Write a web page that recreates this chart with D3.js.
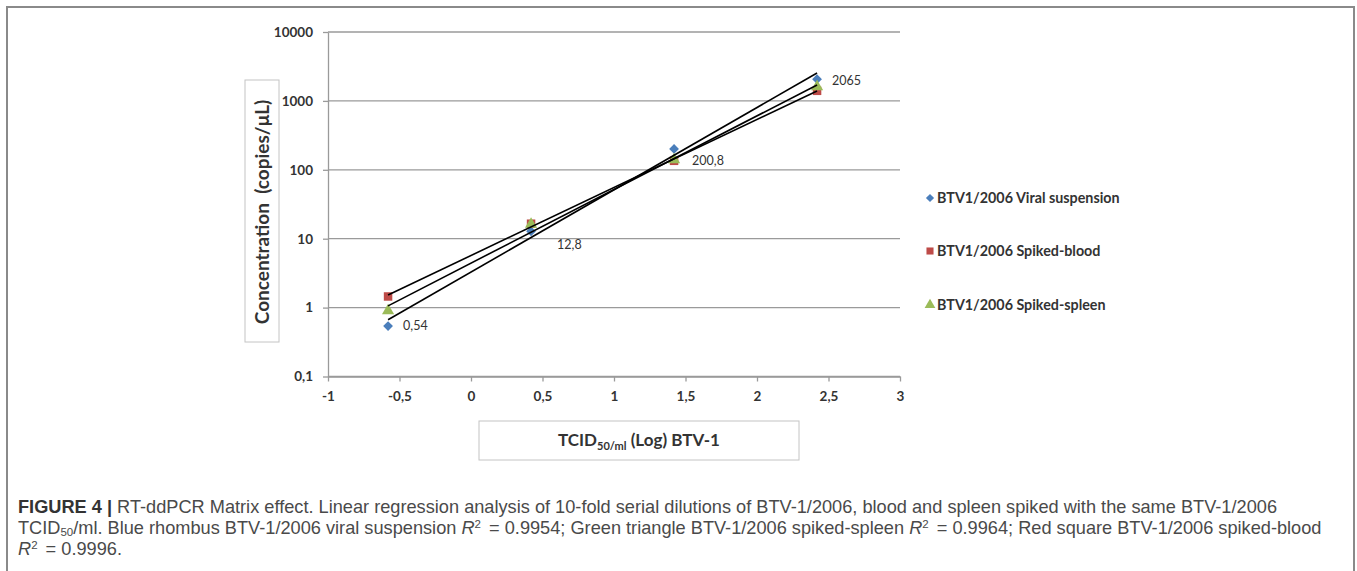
<!DOCTYPE html>
<html>
<head>
<meta charset="utf-8">
<script src="https://cdn.jsdelivr.net/npm/d3@7"></script>
<style>
  html, body { margin: 0; padding: 0; background: #fff; }
  svg { display: block; }
</style>
</head>
<body>
<svg id="chart" width="1357" height="571"></svg>
<script>
// ---------------- data ----------------
const xValues = [-0.58, 0.42, 1.42, 2.42];           // TCID50/ml (Log)
const seriesNames = ["BTV1/2006 Viral suspension", "BTV1/2006 Spiked-blood", "BTV1/2006 Spiked-spleen"];
const viralSuspension = [0.54, 12.8, 200.8, 2065];
const spikedBlood = [1.45, 16.5, 135, 1400];
const spikedSpleen = [0.9, 16.2, 140, 1600];
const dataLabels = ["0,54", "12,8", "200,8", "2065"]; // labels of the viral suspension points
const yTicks = [0.1, 1, 10, 100, 1000, 10000];
const yTickLabels = ["0,1", "1", "10", "100", "1000", "10000"];
const xTicks = [-1, -0.5, 0, 0.5, 1, 1.5, 2, 2.5, 3];
const xTickLabels = ["-1", "-0,5", "0", "0,5", "1", "1,5", "2", "2,5", "3"];

// ---------------- styling ----------------
const colors = ["#4a7ebb", "#be4b48", "#9bbb59"];
const labelOffsets = [[15, 4], [26, 18], [18, 16], [15, 6]];
const chartFont = "Lato, 'Open Sans', sans-serif";
const captionFont = "'Liberation Sans', Arial, sans-serif";

const svg = d3.select("#chart");
const x = d3.scaleLinear().domain([-1, 3]).range([328, 900]);
const y = d3.scaleLog().domain([0.1, 10000]).range([376.5, 32]);

// outer frame
svg.append("rect").attr("x", 7).attr("y", 7).attr("width", 1347).attr("height", 600)
  .attr("fill", "none").attr("stroke", "#8a8a8a").attr("stroke-width", 2);

// gridlines
svg.append("g").selectAll("line").data(yTicks).join("line")
  .attr("x1", x(-1)).attr("x2", x(3))
  .attr("y1", d => y(d)).attr("y2", d => y(d))
  .attr("stroke", "#9a9a9a").attr("stroke-width", 1.3);

// y axis
const yAxis = svg.append("g").attr("transform", `translate(${x(-1)},0)`)
  .call(d3.axisLeft(y).tickValues(yTicks).tickFormat((d, i) => yTickLabels[i]).tickSize(5).tickSizeOuter(0));
yAxis.select(".domain").attr("stroke", "#9a9a9a").attr("stroke-width", 1.3);
yAxis.selectAll(".tick line").attr("stroke", "#9a9a9a").attr("stroke-width", 1.3);
yAxis.selectAll(".tick text").attr("x", -15).attr("font-family", chartFont).attr("font-size", 13.5)
  .attr("font-weight", "bold").attr("fill", "#333");

// x axis
const xAxis = svg.append("g").attr("transform", `translate(0,${y(0.1)})`)
  .call(d3.axisBottom(x).tickValues(xTicks).tickFormat((d, i) => xTickLabels[i]).tickSize(5).tickSizeOuter(0));
xAxis.select(".domain").attr("stroke", "#9a9a9a").attr("stroke-width", 1.3);
xAxis.selectAll(".tick text").attr("y", 15).attr("font-family", chartFont).attr("font-size", 13.5)
  .attr("font-weight", "bold").attr("fill", "#333");
xAxis.selectAll(".tick line").attr("stroke", "#9a9a9a").attr("stroke-width", 1.3);

// y title box
svg.append("rect").attr("x", 245).attr("y", 80).attr("width", 34).attr("height", 262)
  .attr("fill", "#fff").attr("stroke", "#c4c4c4").attr("stroke-width", 1);
svg.append("text").attr("transform", "translate(268.5,212) rotate(-90)")
  .attr("text-anchor", "middle").attr("font-family", chartFont).attr("font-size", 19)
  .attr("font-weight", "bold").attr("fill", "#333").attr("xml:space", "preserve")
  .text("Concentration  (copies/μL)");

// x title box
svg.append("rect").attr("x", 479).attr("y", 421).attr("width", 320).attr("height", 39)
  .attr("fill", "#fff").attr("stroke", "#c4c4c4").attr("stroke-width", 1);
const xt = svg.append("text").attr("x", 639).attr("y", 446).attr("text-anchor", "middle")
  .attr("font-family", chartFont).attr("font-size", 17).attr("font-weight", "bold").attr("fill", "#333");
xt.append("tspan").text("TCID");
xt.append("tspan").attr("font-size", 11).attr("dy", 4).text("50/ml");
xt.append("tspan").attr("dy", -4).text(" (Log) BTV-1");

// series
const series = [viralSuspension, spikedBlood, spikedSpleen];
const symbols = [d3.symbolSquare, d3.symbolSquare, d3.symbolTriangle];
const symSizes = [48, 72, 64];
const symRot = [45, 0, 0];

series.forEach((vals, si) => {
  svg.append("g").selectAll("path").data(vals).join("path")
    .attr("d", d3.symbol().type(symbols[si]).size(symSizes[si]))
    .attr("transform", (d, i) => `translate(${x(xValues[i])},${y(d)}) rotate(${symRot[si]})`)
    .attr("fill", colors[si]);
});

// regression (least squares on log10 values), drawn over markers
series.forEach(vals => {
  const ly = vals.map(v => Math.log10(v));
  const mx = d3.mean(xValues), my = d3.mean(ly);
  const slope = d3.sum(xValues, (xv, i) => (xv - mx) * (ly[i] - my)) / d3.sum(xValues, xv => (xv - mx) ** 2);
  const icpt = my - slope * mx;
  const ends = [d3.min(xValues), d3.max(xValues)];
  svg.append("line")
    .attr("x1", x(ends[0])).attr("y1", y(10 ** (icpt + slope * ends[0])))
    .attr("x2", x(ends[1])).attr("y2", y(10 ** (icpt + slope * ends[1])))
    .attr("stroke", "#000").attr("stroke-width", 1.6);
});

// data labels
svg.append("g").selectAll("text").data(viralSuspension).join("text")
  .attr("x", (d, i) => x(xValues[i]) + labelOffsets[i][0])
  .attr("y", (d, i) => y(d) + labelOffsets[i][1])
  .attr("font-family", chartFont).attr("font-size", 12.5).attr("fill", "#333")
  .text((d, i) => dataLabels[i]);

// legend
const legend = svg.append("g");
const legY = [198, 251, 305];
seriesNames.forEach((name, i) => {
  legend.append("path")
    .attr("d", d3.symbol().type(symbols[i]).size([34, 50, 50][i]))
    .attr("transform", `translate(930,${legY[i]}) rotate(${symRot[i]})`)
    .attr("fill", colors[i]);
  legend.append("text").attr("x", 937).attr("y", legY[i] + 5)
    .attr("font-family", chartFont).attr("font-size", 14.3).attr("font-weight", "bold")
    .attr("fill", "#333").text(name);
});

// caption
const cap = svg.append("text").attr("font-family", captionFont).attr("font-size", 18.2).attr("fill", "#4a4a4a");
const l1 = cap.append("tspan").attr("x", 18).attr("y", 513);
l1.append("tspan").attr("font-weight", "bold").attr("fill", "#333").text("FIGURE 4 | ");
l1.append("tspan").text("RT-ddPCR Matrix effect. Linear regression analysis of 10-fold serial dilutions of BTV-1/2006, blood and spleen spiked with the same BTV-1/2006");
const l2 = cap.append("tspan").attr("x", 18).attr("y", 533.5);
l2.append("tspan").text("TCID");
l2.append("tspan").attr("font-size", 11.5).attr("dy", 2).text("50");
l2.append("tspan").attr("dy", -2).text("/ml. Blue rhombus BTV-1/2006 viral suspension ");
l2.append("tspan").attr("font-style", "italic").text("R");
l2.append("tspan").attr("font-size", 11.5).attr("dy", -6).text("2");
l2.append("tspan").attr("dy", 6).attr("dx", 3).text(" = 0.9954; Green triangle BTV-1/2006 spiked-spleen ");
l2.append("tspan").attr("font-style", "italic").text("R");
l2.append("tspan").attr("font-size", 11.5).attr("dy", -6).text("2");
l2.append("tspan").attr("dy", 6).attr("dx", 3).text(" = 0.9964; Red square BTV-1/2006 spiked-blood");
const l3 = cap.append("tspan").attr("x", 18).attr("y", 554.5);
l3.append("tspan").attr("font-style", "italic").text("R");
l3.append("tspan").attr("font-size", 11.5).attr("dy", -6).text("2");
l3.append("tspan").attr("dy", 6).attr("dx", 3).text(" = 0.9996.");
</script>
</body>
</html>
